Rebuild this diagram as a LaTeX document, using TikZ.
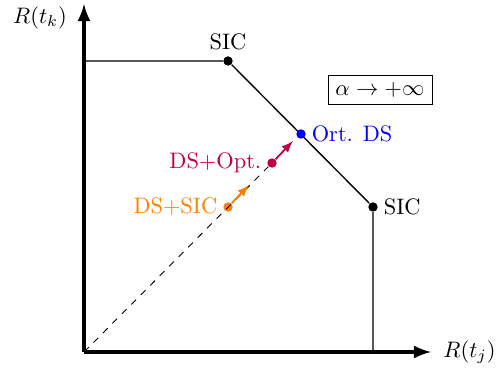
\documentclass[tikz,border=0pt]{standalone}
\usetikzlibrary{positioning}
\begin{document}
\begin{tikzpicture}
% region plot, coordinates in pixels of the sketch
\def\pxsz{0.0157cm}
\providecommand{\regAxisWidth}{1.6pt}
\providecommand{\regLineWidth}{0.6pt}
\tikzset{
  dot/.style={circle, fill, inner sep=0pt, minimum size=4.2pt},
  axis/.style={line width=\regAxisWidth, -latex},
  edge/.style={line width=\regLineWidth},
  push/.style={line width=0.8pt, -latex},
}
\begin{scope}[x=\pxsz, y=\pxsz]
  \useasboundingbox (0,0) rectangle (504,368);
  % Axes
  \coordinate (O) at (84,16);
  \coordinate (ytop) at (84,364);
  \coordinate (xend) at (431,16);
  \draw[axis] (O) -- (ytop);
  \draw[axis] (O) -- (xend);
  \node (rk) at (40,350) {$R(t_k)$};
  \node[right=2pt of xend] (rj) {$R(t_j)$};
  % Boundary of the region
  \coordinate (tl) at (84,307);
  \coordinate (br) at (373,16);
  \node[dot] (sicA) at (228,307) {};
  \node[dot] (sicB) at (373,161) {};
  \node[above=-1pt of sicA] (sicAlbl) {SIC};
  \node[right=-1pt of sicB] (sicBlbl) {SIC};
  \draw[edge] (tl) -- (sicA) -- (sicB) -- (br);
  % Schemes
  \node[dot, blue] (ort) at (301,234) {};
  \node[right=-1pt of ort, blue] (ortlbl) {Ort. DS};
  \node[dot, purple] (opt) at (272,205) {};
  \node[left=-1pt of opt, purple] (optlbl) {DS+Opt.};
  \node[dot, orange] (dsic) at (228,161) {};
  \node[left=-1pt of dsic, orange] (dsiclbl) {DS+SIC};
  \coordinate (optend) at (293,227);
  \coordinate (dsicend) at (249,183);
  \draw[dashed] (O) -- (opt);
  \draw[push, purple] (opt) -- (optend);
  \draw[push, orange] (dsic) -- (dsicend);
  % Limit
  \node[draw] (alpha) at (380,278) {$\alpha\to+\infty$};
\end{scope}
\end{tikzpicture}
\end{document}
